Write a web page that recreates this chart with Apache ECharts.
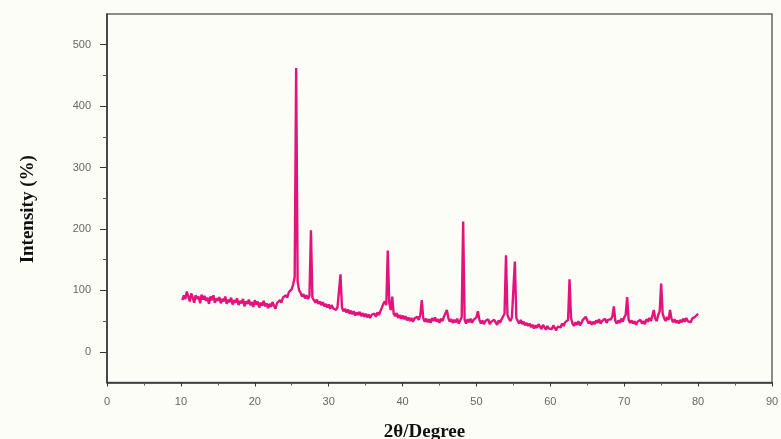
<!DOCTYPE html>
<html>
<head>
<meta charset="utf-8">
<script src="https://cdn.jsdelivr.net/npm/echarts@6/dist/echarts.min.js"></script>
<style>
html,body{margin:0;padding:0;background:#fdfdf8;}
#c{width:781px;height:439px;}
</style>
</head>
<body>
<div id="c"></div>
<script>
// 2θ grid: 10.2 .. 80.0 in 0.2° steps
const angleStart = 10.2;
const angleStep = 0.2;
// Intensity values (5 per degree)
const intensity = [
  84,92,86,98,90,  82,95,88,80,92,  86,90,79,93,85,  91,83,88,78,90,
  84,92,80,87,83,  89,79,86,82,90,  78,85,81,88,77,  84,80,87,76,83,
  79,86,74,82,78,  85,76,81,73,84,  77,82,72,80,75,  83,74,79,71,78,
  73,81,75,70,79,  76,84,80,88,85,  92,88,97,94,102, 110,122,462,114,100,
  96,90,94,87,92,  86,91,198,88,84, 80,85,78,82,76,  81,74,78,72,77,
  70,76,71,74,68,  73,70,126,72,66, 70,64,69,62,67,  61,66,59,64,60,
  65,58,63,57,62,  56,61,55,60,58,  62,57,64,60,66,  72,78,82,76,165,
  80,68,90,62,58,  63,55,60,54,59,  53,58,51,56,50,  55,49,54,51,57,
  52,60,84,55,49,  54,48,53,47,55,  50,56,49,53,47,  54,50,57,60,68,
  55,49,53,47,52,  48,54,46,51,56,  212,52,46,53,48, 54,47,52,49,56,
  66,52,46,51,45,  50,47,53,45,49,  46,52,48,44,51,  47,53,56,62,157,
  60,54,50,56,58,  147,55,50,46,52, 45,49,43,47,42,  46,40,44,38,43,
  39,45,41,37,44,  40,36,42,38,41,  37,43,39,35,41,  44,40,46,42,48,
  45,52,118,55,46, 42,48,44,50,43,  47,52,49,57,51,  46,50,44,49,45,
  51,47,53,46,50,  48,54,47,52,49,  53,58,74,50,46,  51,47,54,49,56,
  60,89,52,47,51,  46,50,44,49,47,  52,46,50,45,53,  49,55,50,58,68,
  54,50,60,66,111, 62,55,50,57,52,  68,54,48,53,47,  51,46,52,48,54,
  49,55,50,53,48,  54,51,57,55,62
];
const xMajorTicks = [0,10,20,30,40,50,60,70,80,90];
const xMinorTicks = [5,15,25,35,45,55,65,75,85];
const yMajorTicks = [0,100,200,300,400,500];
const yMinorTicks = [50,150,250,350,450];

const seriesData = intensity.map((v, i) => [+(angleStart + angleStep * i).toFixed(1), v]);

const labelStyle = {color:'#666', fontSize:11, fontFamily:'Liberation Sans, Arial, sans-serif'};
const axisLineStyle = {onZero:false, lineStyle:{color:'#333', width:1.5}};

const chart = echarts.init(document.getElementById('c'), null, {renderer:'canvas'});
chart.setOption({
  backgroundColor:'#fdfdf8',
  animation:false,
  grid:{left:107, right:9, top:14, bottom:56.5, containLabel:false, outerBoundsMode:'none',
        show:true, borderColor:'#666', borderWidth:1.5, backgroundColor:'transparent'},
  xAxis:[{
    type:'value', min:0, max:90, interval:10,
    axisLine:axisLineStyle,
    axisTick:{show:true, length:4, lineStyle:{color:'#333'}, customValues:xMajorTicks},
    axisLabel:Object.assign({margin:14, customValues:xMajorTicks}, labelStyle),
    splitLine:{show:false},
    name:'2θ/Degree', nameLocation:'middle', nameGap:40,
    nameTextStyle:{fontFamily:'Liberation Serif, Times New Roman, serif', fontWeight:'bold', fontSize:19, color:'#111', padding:[0,30,0,0]}
  },{
    type:'value', min:0, max:90, position:'bottom',
    axisLine:{show:false, onZero:false},
    axisTick:{show:true, length:3, lineStyle:{color:'#555'}, customValues:xMinorTicks},
    axisLabel:{show:false}, splitLine:{show:false}
  }],
  yAxis:[{
    type:'value', min:-50, max:550, interval:50,
    axisLine:axisLineStyle,
    axisTick:{show:true, length:7, lineStyle:{color:'#333'}, customValues:yMajorTicks},
    axisLabel:Object.assign({margin:16, customValues:yMajorTicks}, labelStyle),
    splitLine:{show:false},
    name:'Intensity (%)', nameLocation:'middle', nameGap:69,
    nameTextStyle:{fontFamily:'Liberation Serif, Times New Roman, serif', fontWeight:'bold', fontSize:19, color:'#111', padding:[0,22,0,0]}
  },{
    type:'value', min:-50, max:550, position:'left',
    axisLine:{show:false, onZero:false},
    axisTick:{show:true, length:4, lineStyle:{color:'#555'}, customValues:yMinorTicks},
    axisLabel:{show:false}, splitLine:{show:false}
  }],
  series:[{
    type:'line', data:seriesData, xAxisIndex:0, yAxisIndex:0,
    showSymbol:false, smooth:false,
    lineStyle:{color:'#e3137c', width:2.4},
    itemStyle:{color:'#e3137c'}
  }]
});
</script>
</body>
</html>
